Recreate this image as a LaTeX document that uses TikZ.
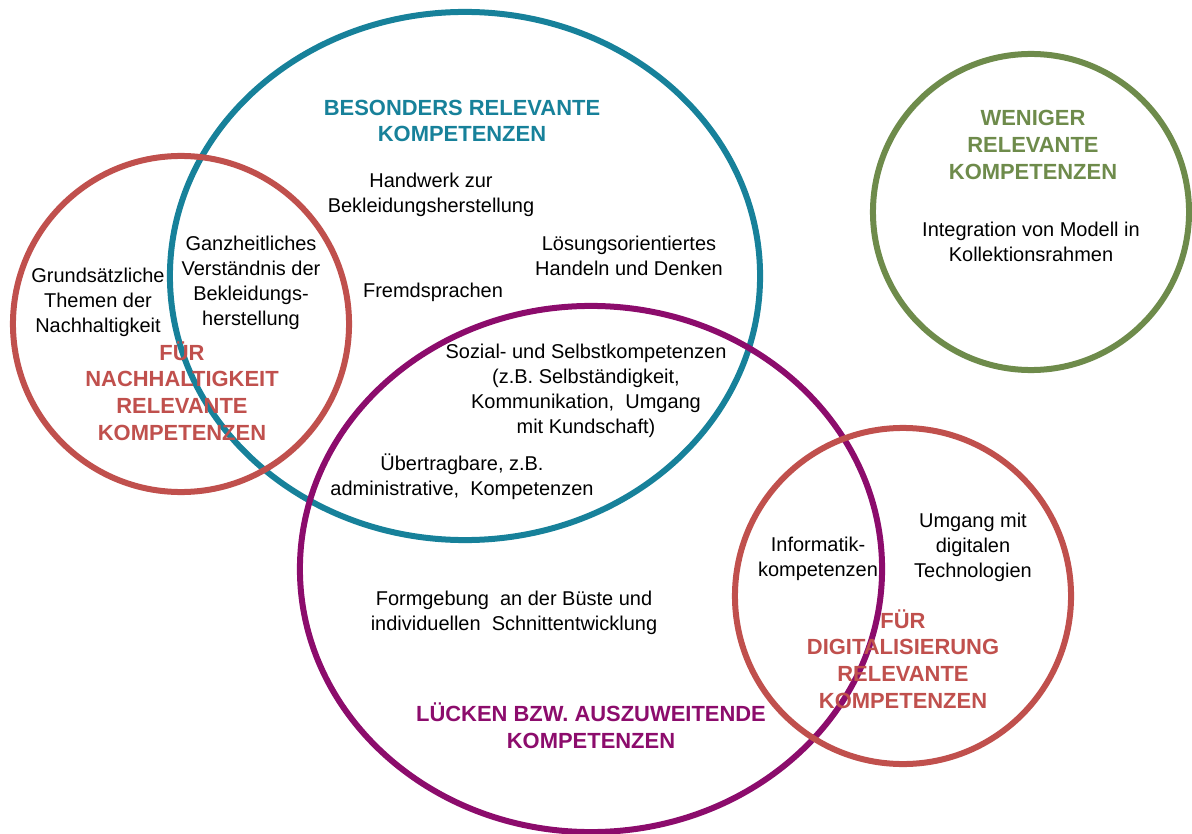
\documentclass[tikz,border=0pt]{standalone}
\usepackage{fontspec}
\setmainfont{Liberation Sans}
\usepackage{xcolor}
\usepackage{tikz}

\definecolor{besondersblue}{HTML}{17819A}
\definecolor{nachhaltred}{HTML}{C0504D}
\definecolor{lueckenpurple}{HTML}{8C0C6C}
\definecolor{wenigergreen}{HTML}{6E8B4B}

\begin{document}
\begin{tikzpicture}[x=0.025cm, y=-0.025cm,
    ring/.style={line width=0.15cm},
    txt/.style={align=center, inner sep=0pt, font=\fontsize{14.2}{17.8}\selectfont},
    head/.style={align=center, inner sep=0pt, font=\bfseries\fontsize{15.6}{19}\selectfont}]
        \useasboundingbox (0,0) rectangle (1192,834);
        % circles
        \draw [ring, besondersblue] (465,276) ellipse [x radius=7.375cm, y radius=6.6cm];
        \draw [ring, nachhaltred] (181,324) circle [radius=4.2cm];
        \draw [ring, lueckenpurple] (591,569) ellipse [x radius=7.275cm, y radius=6.575cm];
        \draw [ring, nachhaltred] (903,596) circle [radius=4.2cm];
        \draw [ring, wenigergreen] (1031,212) circle [radius=3.95cm];
        % headings
        \node [head, besondersblue] (besonders) at (462,121) {BESONDERS RELEVANTE\\KOMPETENZEN};
        \node [head, nachhaltred] (nachhaltig) at (182,391) {FÜR\\NACHHALTIGKEIT\\RELEVANTE\\KOMPETENZEN};
        \node [head, lueckenpurple] (luecken) at (591,726) {LÜCKEN BZW. AUSZUWEITENDE\\KOMPETENZEN};
        \node [head, nachhaltred] (digital) at (903,659) {FÜR\\DIGITALISIERUNG\\RELEVANTE\\KOMPETENZEN};
        \node [head, wenigergreen] (weniger) at (1033,145) {WENIGER\\RELEVANTE\\KOMPETENZEN};
        % competences
        \node [txt] (handwerk) at (431,195) {Handwerk zur\\Bekleidungsherstellung};
        \node [txt] (loesung) at (629,256) {Lösungsorientiertes\\Handeln und Denken};
        \node [txt] (fremd) at (433,292) {Fremdsprachen};
        \node [txt] (ganz) at (251,283) {Ganzheitliches\\Verständnis der\\Bekleidungs-\\herstellung};
        \node [txt] (grund) at (98,302) {Grundsätzliche\\Themen der\\Nachhaltigkeit};
        \node [txt] (sozial) at (586,391) {Sozial- und Selbstkompetenzen\\(z.B. Selbständigkeit,\\Kommunikation,\ \ Umgang\\mit Kundschaft)};
        \node [txt] (uebertrag) at (462,477) {Übertragbare, z.B.\\administrative,\ \ Kompetenzen};
        \node [txt] (formgebung) at (514,613) {Formgebung\ \ an der Büste und\\individuellen\ \ Schnittentwicklung};
        \node [txt] (informatik) at (818,559) {Informatik-\\kompetenzen};
        \node [txt] (umgang) at (973,547) {Umgang mit\\digitalen\\Technologien};
        \node [txt] (integration) at (1031,242) {Integration von Modell in\\Kollektionsrahmen};
\end{tikzpicture}
\end{document}
